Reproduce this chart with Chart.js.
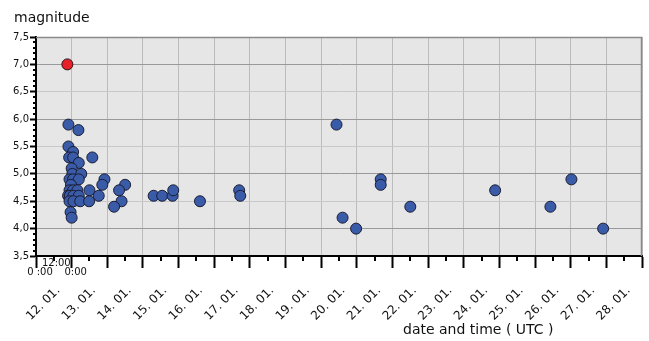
<!DOCTYPE html>
<html>
<head>
<meta charset="utf-8">
<script src="https://cdn.jsdelivr.net/npm/chart.js@4.4.0/dist/chart.umd.min.js"></script>
<style>
html, body { margin: 0; padding: 0; background: #fff; }
</style>
</head>
<body>
<canvas id="quakeChart" width="649" height="341"></canvas>
<script>
// x = day of January (UTC, decimal), y = magnitude
var mainShockDay=[ 11.88 ];
var mainShockMag=[ 7.0 ];

var quakeDays=[
        11.91, 12.19, 11.91, 12.04, 11.93, 12.04, 12.58, 12.20, 12.00, 12.02,
        12.27, 11.94, 12.04, 12.20, 12.92, 12.86, 13.50, 11.98, 13.33, 12.50,
        11.94, 12.04, 12.16, 11.90, 11.95, 12.05, 12.20, 12.76, 11.94, 12.05,
        12.24, 12.49, 13.40, 13.19, 11.97, 12.00, 14.30, 14.54, 14.83, 14.85,
        15.60, 16.70, 16.73, 19.43, 19.60, 19.98, 20.67, 20.67, 21.50, 23.88,
        25.43, 26.02, 26.91
];
var quakeMags=[
        5.9, 5.8, 5.5, 5.4, 5.3, 5.3, 5.3, 5.2, 5.1, 5.0,
        5.0, 4.9, 4.9, 4.9, 4.9, 4.8, 4.8, 4.8, 4.7, 4.7,
        4.7, 4.7, 4.7, 4.6, 4.6, 4.6, 4.6, 4.6, 4.5, 4.5,
        4.5, 4.5, 4.5, 4.4, 4.3, 4.2, 4.6, 4.6, 4.6, 4.7,
        4.5, 4.7, 4.6, 5.9, 4.2, 4.0, 4.9, 4.8, 4.4, 4.7,
        4.4, 4.9, 4.0
];

var dayTicks=[ 11, 12, 13, 14, 15, 16, 17, 18, 19, 20, 21, 22, 23, 24, 25, 26, 27, 28 ];
var dayLabels=[ "", "12. 01.", "13. 01.", "14. 01.", "15. 01.", "16. 01.", "17. 01.", "18. 01.", "19. 01.",
        "20. 01.", "21. 01.", "22. 01.", "23. 01.", "24. 01.", "25. 01.", "26. 01.", "27. 01.", "28. 01." ];
var timeLabels=[ "0 :00", "12:00", "0:00" ];
var timeLabelDays=[ 11, 11.5, 12 ];

function isStep( v, step )
{
        var q=v/step;
        return Math.abs( q-Math.round( q ) )<1e-6;
}

function toPoints( xs, ys )
{
        return xs.map( ( x, i ) => ( { x: x, y: ys[ i ] } ) );
}

var frame={
        id: 'frame',
        beforeDraw: function ( chart )
        {
                var a=chart.chartArea, c=chart.ctx;
                c.save();
                c.fillStyle='#e6e6e6';
                c.fillRect( a.left, a.top, a.right-a.left, a.bottom-a.top );
                c.restore();
        },
        afterDraw: function ( chart )
        {
                var a=chart.chartArea, c=chart.ctx;
                var xs=chart.scales.x, ys=chart.scales.y;
                c.save();
                // top and right border
                c.strokeStyle='#8a8a8a';
                c.lineWidth=1.5;
                c.beginPath();
                c.moveTo( a.left, a.top+0.5 );
                c.lineTo( a.right-0.5, a.top+0.5 );
                c.lineTo( a.right-0.5, a.bottom );
                c.stroke();
                // minor ticks
                c.strokeStyle='#000';
                c.lineWidth=2;
                c.beginPath();
                xs.ticks.forEach( t =>
                {
                        if ( !isStep( t.value, 1 ) )
                        {
                                var px=Math.round( xs.getPixelForValue( t.value ) );
                                c.moveTo( px, a.bottom );
                                c.lineTo( px, a.bottom+5 );
                        }
                } );
                ys.ticks.forEach( t =>
                {
                        if ( !isStep( t.value, 0.5 ) )
                        {
                                var py=Math.round( ys.getPixelForValue( t.value ) );
                                c.moveTo( a.left, py );
                                c.lineTo( a.left-3, py );
                        }
                } );
                c.stroke();
                // small time labels under the first day
                c.fillStyle='#111';
                c.font='10px "DejaVu Sans"';
                c.textAlign='center';
                c.textBaseline='middle';
                timeLabels.forEach( ( s, i ) =>
                {
                        var px=xs.getPixelForValue( timeLabelDays[ i ] );
                        var up=( i===1 );
                        c.fillText( s, px+( up ? 2.5 : 4 ), up ? a.bottom+7 : a.bottom+16 );
                } );
                // axis titles
                c.font='14px "DejaVu Sans"';
                c.textAlign='left';
                c.fillText( 'magnitude', 14, 18 );
                c.fillText( 'date and time ( UTC )', 403, 330 );
                c.restore();
        }
};

var ctx=document.getElementById( 'quakeChart' ).getContext( '2d' );
var quakeChart=new Chart( ctx, {
        type: 'scatter',
        plugins: [ frame ],
        data: {
                datasets: [ {
                        label: 'aftershocks',
                        data: toPoints( quakeDays, quakeMags ),
                        backgroundColor: '#3a5ba8',
                        borderColor: '#1a1d33',
                        borderWidth: 1,
                        pointRadius: 5.5,
                        order: 2
                },
                {
                        label: 'main shock',
                        data: toPoints( mainShockDay, mainShockMag ),
                        backgroundColor: '#e8202a',
                        borderColor: '#2a1010',
                        borderWidth: 1,
                        pointRadius: 5.5,
                        order: 1
                } ]
        },
        options: {
                responsive: false,
                animation: false,
                layout: { padding: { top: 37, right: 7, left: 0, bottom: 0 } },
                plugins: {
                        legend: { display: false },
                        tooltip: { enabled: false }
                },
                scales: {
                        x: {
                                type: 'linear',
                                min: dayTicks[ 0 ],
                                max: dayTicks[ dayTicks.length-1 ],
                                afterFit: function ( s )
                                {
                                        s.height=85;
                                        s.paddingLeft=0;
                                        s.paddingRight=0;
                                },
                                border: { color: '#000', width: 2 },
                                grid: {
                                        color: c => isStep( c.tick.value, 1 ) ? '#bcbcbc' : 'rgba(0,0,0,0)',
                                        tickColor: c => isStep( c.tick.value, 1 ) ? '#000' : 'rgba(0,0,0,0)',
                                        tickLength: 12,
                                        tickWidth: 2
                                },
                                ticks: {
                                        stepSize: 0.5,
                                        autoSkip: false,
                                        maxRotation: 45,
                                        minRotation: 45,
                                        padding: 2,
                                        color: '#111',
                                        font: { family: 'DejaVu Sans', size: 12 },
                                        callback: function ( v )
                                        {
                                                var i=dayTicks.indexOf( Math.round( v ) );
                                                // trailing spaces pull the slanted label left of its tick
                                                return isStep( v, 1 )&&i>=0 ? dayLabels[ i ]+'     ' : '';
                                        }
                                }
                        },
                        y: {
                                min: 3.5,
                                max: 7.5,
                                afterFit: function ( s )
                                {
                                        s.width=36;
                                        s.paddingTop=0;
                                        s.paddingBottom=0;
                                },
                                border: { color: '#000', width: 2 },
                                grid: {
                                        color: c => isStep( c.tick.value, 1 ) ? '#999999' : ( isStep( c.tick.value, 0.5 ) ? '#c8c8c8' : 'rgba(0,0,0,0)' ),
                                        tickColor: c => isStep( c.tick.value, 0.5 ) ? '#000' : 'rgba(0,0,0,0)',
                                        tickLength: 6,
                                        tickWidth: 2
                                },
                                ticks: {
                                        stepSize: 0.1,
                                        autoSkip: false,
                                        padding: 1,
                                        color: '#111',
                                        font: { family: 'DejaVu Sans', size: 10 },
                                        callback: function ( v )
                                        {
                                                return isStep( v, 0.5 ) ? v.toFixed( 1 ).replace( '.', ',' ) : '';
                                        }
                                }
                        }
                }
        }
} );
</script>
</body>
</html>
